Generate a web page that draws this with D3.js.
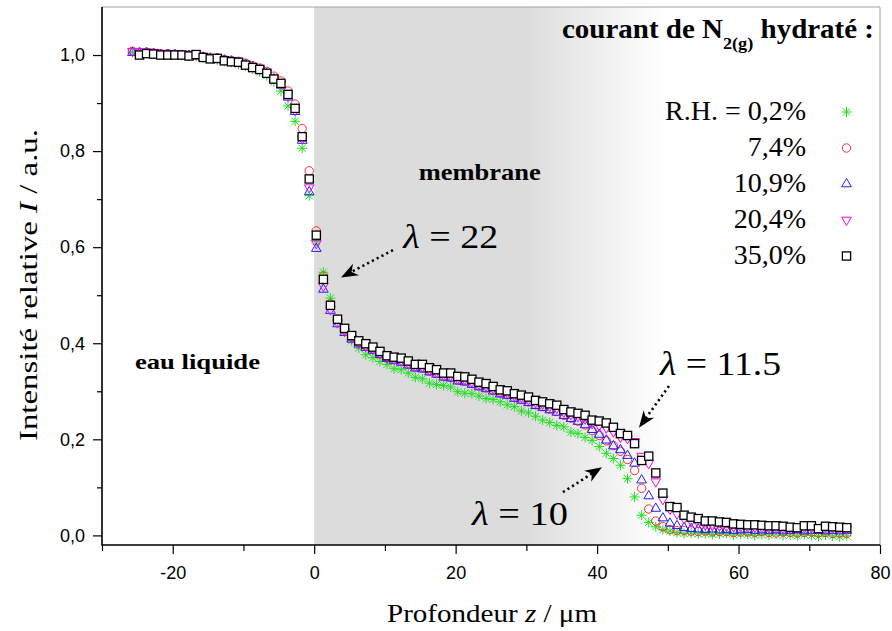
<!DOCTYPE html>
<html>
<head>
<meta charset="utf-8">
<script src="https://cdn.jsdelivr.net/npm/d3@7"></script>
<style>
  body { margin: 0; background: #fff; }
  text { font-family: "Liberation Serif", "Times New Roman", serif; }
  .tick text { font-family: "Liberation Sans", Arial, sans-serif; font-size: 18px; fill: #000; }
</style>
</head>
<body>
<svg id="chart" width="892" height="631"></svg>
<script>
// --- DATA ---
// depth z in µm, one sample per µm
const depth = [
  -25.7, -24.7, -23.7, -22.7, -21.7, -20.7, -19.7, -18.7, -17.7, -16.7,
  -15.7, -14.7, -13.7, -12.7, -11.7, -10.7, -9.7, -8.7, -7.7, -6.7,
  -5.7, -4.7, -3.7, -2.7, -1.7, -0.7, 0.3, 1.3, 2.3, 3.3,
  4.3, 5.3, 6.3, 7.3, 8.3, 9.3, 10.3, 11.3, 12.3, 13.3,
  14.3, 15.3, 16.3, 17.3, 18.3, 19.3, 20.3, 21.3, 22.3, 23.3,
  24.3, 25.3, 26.3, 27.3, 28.3, 29.3, 30.3, 31.3, 32.3, 33.3,
  34.3, 35.3, 36.3, 37.3, 38.3, 39.3, 40.3, 41.3, 42.3, 43.3,
  44.3, 45.3, 46.3, 47.3, 48.3, 49.3, 50.3, 51.3, 52.3, 53.3,
  54.3, 55.3, 56.3, 57.3, 58.3, 59.3, 60.3, 61.3, 62.3, 63.3,
  64.3, 65.3, 66.3, 67.3, 68.3, 69.3, 70.3, 71.3, 72.3, 73.3,
  74.3, 75.3
];

const rh02 = [
  1.006, 1.004, 1.005, 1.003, 1.002, 1.001, 1.002, 0.999, 0.998, 0.997,
  0.994, 0.993, 0.990, 0.987, 0.985, 0.981, 0.977, 0.971, 0.965, 0.957,
  0.944, 0.925, 0.894, 0.862, 0.806, 0.707, 0.612, 0.548, 0.494, 0.447,
  0.425, 0.405, 0.390, 0.376, 0.370, 0.362, 0.356, 0.347, 0.345, 0.338,
  0.329, 0.326, 0.317, 0.314, 0.312, 0.309, 0.299, 0.296, 0.295, 0.290,
  0.285, 0.283, 0.278, 0.272, 0.268, 0.259, 0.255, 0.248, 0.240, 0.235,
  0.229, 0.226, 0.215, 0.212, 0.204, 0.198, 0.185, 0.171, 0.160, 0.146,
  0.118, 0.080, 0.042, 0.027, 0.018, 0.012, 0.009, 0.006, 0.004, 0.005,
  0.003, 0.004, 0.002, 0.003, 0.004, 0.001, 0.003, 0.002, 0.000, 0.002,
  0.001, 0.003, 0.000, 0.001, -0.001, 0.002, 0.000, -0.002, 0.001, -0.001,
  -0.003, -0.001
];

const rh074 = [
  1.008, 1.006, 1.006, 1.004, 1.003, 1.003, 1.002, 1.001, 1.000, 1.000,
  0.997, 0.995, 0.994, 0.991, 0.989, 0.987, 0.983, 0.978, 0.973, 0.966,
  0.956, 0.946, 0.925, 0.898, 0.847, 0.759, 0.634, 0.540, 0.482, 0.450,
  0.428, 0.413, 0.402, 0.394, 0.387, 0.378, 0.370, 0.366, 0.362, 0.356,
  0.350, 0.348, 0.342, 0.337, 0.331, 0.329, 0.323, 0.321, 0.316, 0.311,
  0.307, 0.302, 0.296, 0.293, 0.287, 0.283, 0.278, 0.272, 0.268, 0.263,
  0.258, 0.250, 0.244, 0.238, 0.230, 0.218, 0.208, 0.197, 0.187, 0.175,
  0.158, 0.135, 0.098, 0.055, 0.030, 0.018, 0.012, 0.010, 0.010, 0.009,
  0.008, 0.009, 0.007, 0.008, 0.008, 0.006, 0.007, 0.007, 0.006, 0.008,
  0.006, 0.005, 0.007, 0.006, 0.005, 0.006, 0.007, 0.005, 0.006, 0.004,
  0.005, 0.004
];

const rh109 = [
  1.005, 1.004, 1.004, 1.003, 1.001, 1.001, 1.000, 0.999, 0.999, 0.998,
  0.995, 0.993, 0.992, 0.989, 0.987, 0.984, 0.980, 0.975, 0.969, 0.961,
  0.950, 0.937, 0.912, 0.882, 0.822, 0.715, 0.597, 0.512, 0.468, 0.440,
  0.422, 0.408, 0.398, 0.391, 0.385, 0.376, 0.368, 0.364, 0.360, 0.354,
  0.348, 0.346, 0.340, 0.335, 0.329, 0.327, 0.321, 0.319, 0.314, 0.309,
  0.305, 0.300, 0.294, 0.291, 0.285, 0.281, 0.276, 0.270, 0.266, 0.261,
  0.256, 0.249, 0.243, 0.237, 0.230, 0.220, 0.210, 0.198, 0.186, 0.178,
  0.166, 0.150, 0.115, 0.082, 0.056, 0.036, 0.025, 0.020, 0.016, 0.014,
  0.013, 0.012, 0.013, 0.011, 0.012, 0.010, 0.011, 0.012, 0.010, 0.011,
  0.010, 0.011, 0.009, 0.010, 0.011, 0.009, 0.010, 0.011, 0.009, 0.010,
  0.009, 0.010
];

const rh204 = [
  1.008, 1.007, 1.007, 1.006, 1.004, 1.003, 1.003, 1.002, 1.000, 1.001,
  0.997, 0.995, 0.994, 0.990, 0.988, 0.986, 0.981, 0.976, 0.971, 0.963,
  0.952, 0.940, 0.915, 0.885, 0.826, 0.724, 0.608, 0.519, 0.470, 0.443,
  0.425, 0.411, 0.400, 0.394, 0.388, 0.379, 0.370, 0.367, 0.364, 0.358,
  0.352, 0.351, 0.344, 0.340, 0.334, 0.333, 0.326, 0.325, 0.320, 0.315,
  0.311, 0.306, 0.299, 0.297, 0.291, 0.288, 0.283, 0.277, 0.274, 0.269,
  0.265, 0.257, 0.252, 0.248, 0.243, 0.233, 0.229, 0.224, 0.216, 0.205,
  0.202, 0.196, 0.165, 0.150, 0.112, 0.075, 0.055, 0.045, 0.035, 0.030,
  0.026, 0.022, 0.021, 0.020, 0.019, 0.018, 0.018, 0.017, 0.017, 0.016,
  0.016, 0.016, 0.015, 0.015, 0.014, 0.016, 0.016, 0.013, 0.015, 0.015,
  0.014, 0.014
];

const rh350 = [
  null, 1.000, 1.003, 1.002, 1.000, 1.000, 1.000, 1.000, 0.998, 1.001,
  0.995, 0.992, 0.993, 0.988, 0.986, 0.985, 0.979, 0.974, 0.970, 0.962,
  0.950, 0.941, 0.918, 0.889, 0.830, 0.742, 0.625, 0.533, 0.479, 0.450,
  0.431, 0.416, 0.405, 0.399, 0.392, 0.383, 0.374, 0.371, 0.369, 0.363,
  0.356, 0.356, 0.349, 0.345, 0.338, 0.338, 0.331, 0.330, 0.325, 0.319,
  0.316, 0.310, 0.303, 0.301, 0.295, 0.292, 0.288, 0.281, 0.278, 0.274,
  0.271, 0.262, 0.257, 0.254, 0.250, 0.240, 0.238, 0.234, 0.225, 0.212,
  0.208, 0.191, 0.156, 0.165, 0.130, 0.088, 0.060, 0.058, 0.042, 0.038,
  0.035, 0.030, 0.030, 0.028, 0.027, 0.024, 0.023, 0.022, 0.022, 0.021,
  0.020, 0.020, 0.019, 0.017, 0.016, 0.020, 0.020, 0.014, 0.019, 0.018,
  0.017, 0.016
];

const seriesLabels = ["R.H. = 0,2%", "7,4%", "10,9%", "20,4%", "35,0%"];
const xTicks = [-20, 0, 20, 40, 60, 80];
const xMinorTicks = [-30, -10, 10, 30, 50, 70];
const yTicks = [0, 0.2, 0.4, 0.6, 0.8, 1.0];
const yMinorTicks = [0.1, 0.3, 0.5, 0.7, 0.9];

// --- SETUP ---
const svg = d3.select("#chart");
const x = d3.scaleLinear().domain([-30, 80]).range([102, 880]);
const y = d3.scaleLinear().domain([-0.02, 1.1]).range([545, 7]);

const series = [
  { label: seriesLabels[0], values: rh02,  color: "#1ee01e", shape: "star" },
  { label: seriesLabels[1], values: rh074, color: "#ff3030", shape: "circle" },
  { label: seriesLabels[2], values: rh109, color: "#2020ff", shape: "up" },
  { label: seriesLabels[3], values: rh204, color: "#ff00ff", shape: "down" },
  { label: seriesLabels[4], values: rh350, color: "#000000", shape: "square" }
];

// --- MEMBRANE BACKGROUND ---
const defs = svg.append("defs");
const grad = defs.append("linearGradient")
  .attr("id", "memGrad")
  .attr("gradientUnits", "userSpaceOnUse")
  .attr("x1", x(0)).attr("x2", x(80))
  .attr("y1", 0).attr("y2", 0);
grad.append("stop").attr("offset", 0).attr("stop-color", "#dcdcdc");
grad.append("stop").attr("offset", 0.37).attr("stop-color", "#dcdcdc");
grad.append("stop").attr("offset", 0.62).attr("stop-color", "#ffffff");

svg.append("rect")
  .attr("x", x(0)).attr("y", y(1.1))
  .attr("width", x(80) - x(0))
  .attr("height", y(-0.02) - y(1.1))
  .attr("fill", "url(#memGrad)");

// grey frame top / right
svg.append("path")
  .attr("d", `M${x(-30)},${y(1.1)}H${x(80)}V${y(-0.02)}`)
  .attr("fill", "none")
  .attr("stroke", "#a0a0a0")
  .attr("stroke-width", 1);

// --- MARKERS ---
function drawMarker(g, shape, color) {
  if (shape === "star") {
    g.append("path")
      .attr("d", "M0,-5V5M-5,0H5M-3.6,-3.6L3.6,3.6M-3.6,3.6L3.6,-3.6")
      .attr("stroke", color).attr("stroke-width", 1).attr("fill", "none");
  } else if (shape === "circle") {
    g.append("circle").attr("r", 4.2)
      .attr("fill", "none").attr("stroke", color).attr("stroke-width", 1);
  } else if (shape === "up" || shape === "down") {
    g.append("path")
      .attr("d", d3.symbol().type(d3.symbolTriangle).size(40)())
      .attr("transform", shape === "down" ? "rotate(180)" : null)
      .attr("fill", "none").attr("stroke", color).attr("stroke-width", 1);
  } else {
    g.append("rect").attr("x", -4.1).attr("y", -4.1)
      .attr("width", 8.2).attr("height", 8.2)
      .attr("fill", "#fff").attr("stroke", color).attr("stroke-width", 1.3);
  }
}

series.forEach(s => {
  const pts = depth.map((z, i) => ({ z, v: s.values[i] })).filter(d => d.v !== null);
  svg.append("g")
    .selectAll("g")
    .data(pts)
    .enter()
    .append("g")
    .attr("transform", d => `translate(${x(d.z)},${y(d.v)})`)
    .each(function () { drawMarker(d3.select(this), s.shape, s.color); });
});

// --- AXES ---
const commaFmt = d => d3.format(".1f")(d).replace(".", ",");

svg.append("g")
  .attr("transform", `translate(0,${y(-0.02)})`)
  .call(d3.axisBottom(x).tickValues(xTicks).tickSize(9).tickPadding(12).tickFormat(d => String(d)))
  .call(g => g.select(".domain").remove())
  .call(g => g.selectAll("line").attr("stroke-width", 1.2));
svg.append("g")
  .attr("transform", `translate(0,${y(-0.02)})`)
  .call(d3.axisBottom(x).tickValues(xMinorTicks).tickSize(6).tickFormat(""))
  .call(g => g.select(".domain").remove())
  .call(g => g.selectAll("line").attr("stroke-width", 1.2));

svg.append("g")
  .attr("transform", `translate(${x(-30)},0)`)
  .call(d3.axisLeft(y).tickValues(yTicks).tickSize(9).tickPadding(8).tickFormat(commaFmt))
  .call(g => g.select(".domain").remove())
  .call(g => g.selectAll("line").attr("stroke-width", 1.2));
svg.append("g")
  .attr("transform", `translate(${x(-30)},0)`)
  .call(d3.axisLeft(y).tickValues(yMinorTicks).tickSize(5).tickFormat(""))
  .call(g => g.select(".domain").remove())
  .call(g => g.selectAll("line").attr("stroke-width", 1.2));

// axis lines
svg.append("path")
  .attr("d", `M${x(-30)},${y(1.1)}V${y(-0.02)}H${x(80)}`)
  .attr("fill", "none").attr("stroke", "#000").attr("stroke-width", 1.6);

// axis titles
const yTitle = svg.append("text")
  .attr("transform", "translate(37,285) rotate(-90)")
  .attr("text-anchor", "middle")
  .attr("font-size", 26)
  .attr("textLength", 312).attr("lengthAdjust", "spacingAndGlyphs");
yTitle.append("tspan").text("Intensité relative ");
yTitle.append("tspan").attr("font-style", "italic").text("I");
yTitle.append("tspan").text(" / a.u.");

const xTitle = svg.append("text")
  .attr("x", 492).attr("y", 622)
  .attr("text-anchor", "middle")
  .attr("font-size", 26)
  .attr("textLength", 210).attr("lengthAdjust", "spacingAndGlyphs");
xTitle.append("tspan").text("Profondeur ");
xTitle.append("tspan").attr("font-style", "italic").text("z");
xTitle.append("tspan").text(" / μm");

// --- REGION LABELS ---
svg.append("text")
  .attr("x", x(23.4)).attr("y", y(0.74))
  .attr("text-anchor", "middle")
  .attr("font-size", 24).attr("font-weight", "bold")
  .attr("textLength", 122).attr("lengthAdjust", "spacingAndGlyphs")
  .text("membrane");

svg.append("text")
  .attr("x", x(-16.5)).attr("y", y(0.346))
  .attr("text-anchor", "middle")
  .attr("font-size", 22).attr("font-weight", "bold")
  .attr("textLength", 125).attr("lengthAdjust", "spacingAndGlyphs")
  .text("eau liquide");

// --- LAMBDA ANNOTATIONS ---
const lambdaLabels = [
  { z: 12.6, v: 0.598, txt: " = 22", w: 95 },
  { z: 48.9, v: 0.334, txt: " = 11.5", w: 121 },
  { z: 22.3, v: 0.0216, txt: " = 10", w: 96 }
];
lambdaLabels.forEach(d => {
  const t = svg.append("text")
    .attr("x", x(d.z)).attr("y", y(d.v))
    .attr("font-size", 33)
    .attr("textLength", d.w).attr("lengthAdjust", "spacingAndGlyphs");
  t.append("tspan").attr("font-style", "italic").text("λ");
  t.append("tspan").text(d.txt);
});

const arrows = [
  { z0: 11.14, v0: 0.594, z1: 3.79, v1: 0.537 },
  { z0: 50.16, v0: 0.311, z1: 45.92, v1: 0.224 },
  { z0: 35.17, v0: 0.090, z1: 40.69, v1: 0.142 }
];
arrows.forEach(a => {
  const x0 = x(a.z0), y0 = y(a.v0), x1 = x(a.z1), y1 = y(a.v1);
  const dx = x1 - x0, dy = y1 - y0, L = Math.hypot(dx, dy);
  const ux = dx / L, uy = dy / L;
  const hl = 17, hw = 6.5;
  const bx = x1 - ux * hl, by = y1 - uy * hl;
  const nx = x1 - ux * hl * 0.7, ny = y1 - uy * hl * 0.7;
  svg.append("line")
    .attr("x1", x0).attr("y1", y0).attr("x2", nx).attr("y2", ny)
    .attr("stroke", "#000").attr("stroke-width", 2.6)
    .attr("stroke-dasharray", "2.2,3.2");
  svg.append("path")
    .attr("d", `M${x1},${y1}L${bx - uy * hw},${by + ux * hw}L${nx},${ny}L${bx + uy * hw},${by - ux * hw}Z`)
    .attr("fill", "#000");
});

// --- LEGEND ---
const legTitle = svg.append("text")
  .attr("x", 562).attr("y", 38)
  .attr("font-size", 27).attr("font-weight", "bold")
  .attr("textLength", 312).attr("lengthAdjust", "spacingAndGlyphs");
legTitle.append("tspan").text("courant de N");
legTitle.append("tspan").attr("font-size", 17).attr("dy", 11).text("2(g)");
legTitle.append("tspan").attr("dy", -11).text(" hydraté :");

series.forEach((s, i) => {
  svg.append("text")
    .attr("x", 806).attr("y", 120 + i * 36)
    .attr("text-anchor", "end")
    .attr("font-size", 28)
    .text(s.label);
  const g = svg.append("g").attr("transform", `translate(846.5,${112 + i * 36})`);
  drawMarker(g, s.shape, s.color);
});
</script>
</body>
</html>
